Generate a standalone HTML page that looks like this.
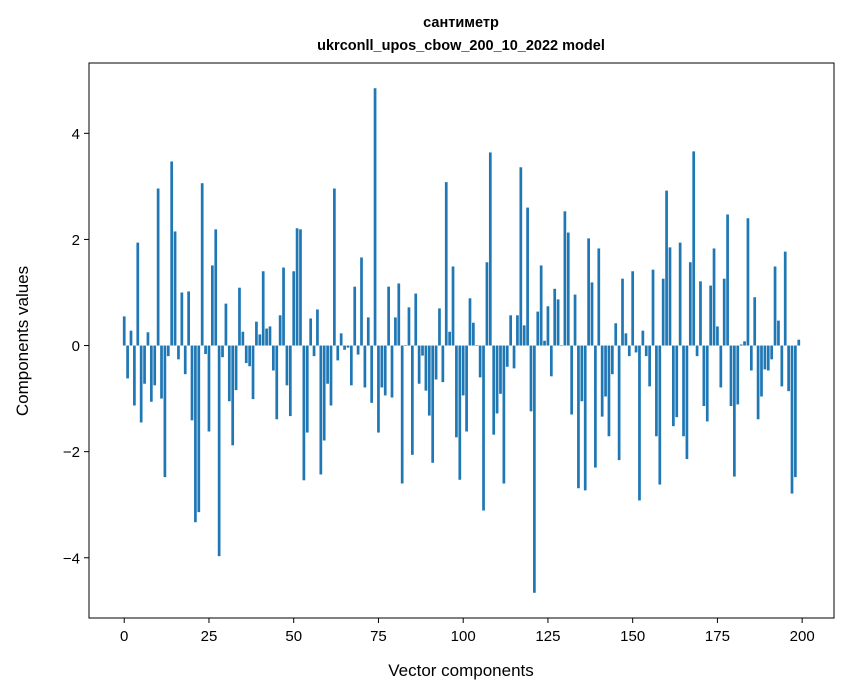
<!DOCTYPE html>
<html><head><meta charset="utf-8">
<style>
body{margin:0;background:#fff;}
svg{display:block;font-family:"Liberation Sans","DejaVu Sans",sans-serif;}
</style></head>
<body>
<svg id="chart" width="847" height="696">
<text x="461" y="27" text-anchor="middle" font-size="14.5" font-weight="bold">сантиметр</text>
<text x="461" y="50" text-anchor="middle" font-size="14.5" font-weight="bold">ukrconll_upos_cbow_200_10_2022 model</text>
<g id="bars"></g>
<g id="xaxis"></g>
<g id="yaxis"></g>
<rect x="89" y="63" width="745" height="555" fill="none" stroke="#000" stroke-width="1"/>
<text x="461" y="676" text-anchor="middle" font-size="17">Vector components</text>
<text transform="translate(28,341) rotate(-90)" text-anchor="middle" font-size="17">Components values</text>
</svg>
<script>
const values = [
0.55,-0.62,0.28,-1.13,1.94,-1.45,-0.72,0.25,-1.06,-0.75,
2.96,-1.0,-2.48,-0.2,3.47,2.15,-0.26,1.0,-0.54,1.02,
-1.41,-3.33,-3.14,3.06,-0.16,-1.62,1.51,2.19,-3.97,-0.22,
0.79,-1.05,-1.88,-0.84,1.09,0.26,-0.33,-0.39,-1.01,0.45,
0.21,1.40,0.32,0.36,-0.47,-1.39,0.57,1.47,-0.75,-1.33,
1.40,2.21,2.19,-2.54,-1.64,0.51,-0.2,0.68,-2.43,-1.79,
-0.72,-1.13,2.96,-0.28,0.23,-0.08,-0.04,-0.75,1.11,-0.17,
1.66,-0.79,0.53,-1.08,4.85,-1.64,-0.79,-0.94,1.11,-0.98,
0.53,1.17,-2.6,0.01,0.72,-2.06,0.98,-0.72,-0.19,-0.85,
-1.32,-2.21,-0.64,0.70,-0.69,3.08,0.26,1.49,-1.73,-2.53,
-0.94,-1.62,0.89,0.43,0.01,-0.6,-3.11,1.57,3.64,-1.68,
-1.28,-0.91,-2.6,-0.4,0.57,-0.43,0.57,3.36,0.38,2.6,
-1.24,-4.66,0.64,1.51,0.09,0.74,-0.58,1.07,0.87,-0.01,
2.53,2.13,-1.30,0.96,-2.69,-1.05,-2.73,2.02,1.19,-2.3,
1.83,-1.34,-0.96,-1.71,-0.54,0.42,-2.16,1.26,0.23,-0.2,
1.40,-0.13,-2.92,0.28,-0.2,-0.77,1.43,-1.71,-2.62,1.26,
2.92,1.85,-1.52,-1.35,1.94,-1.71,-2.14,1.57,3.66,-0.2,
1.21,-1.14,-1.43,1.13,1.83,0.36,-0.79,1.26,2.47,-1.14,
-2.47,-1.11,0.02,0.08,2.40,-0.47,0.91,-1.39,-0.96,-0.45,
-0.47,-0.26,1.49,0.47,-0.77,1.77,-0.86,-2.79,-2.48,0.11
];
const xTicks = [0,25,50,75,100,125,150,175,200];
const yTicks = [-4,-2,0,2,4];
const NS="http://www.w3.org/2000/svg";
const L=89,R=834,T=63,B=618;
const n=values.length;
const xmin=-0.4-0.05*(n-0.2), xmax=(n-1)+0.4+0.05*(n-0.2);
const vmin=Math.min(...values,0), vmax=Math.max(...values,0);
const pad=(vmax-vmin)*0.05;
const ymin=vmin-pad, ymax=vmax+pad;
function sx(v){return L+(v-xmin)/(xmax-xmin)*(R-L);}
function sy(v){return B-(v-ymin)/(ymax-ymin)*(B-T);}
const gb=document.getElementById('bars');
values.forEach((v,i)=>{
  const r=document.createElementNS(NS,'rect');
  const x0=sx(i-0.4), x1=sx(i+0.4);
  const y0=sy(Math.max(v,0)), y1=sy(Math.min(v,0));
  r.setAttribute('x',x0);r.setAttribute('width',x1-x0);
  r.setAttribute('y',y0);r.setAttribute('height',Math.max(y1-y0,0.3));
  r.setAttribute('fill','#1f77b4');
  
  
  gb.appendChild(r);
});
const gx=document.getElementById('xaxis');
xTicks.forEach(t=>{
  const x=sx(t);
  const l=document.createElementNS(NS,'line');
  l.setAttribute('x1',x);l.setAttribute('x2',x);l.setAttribute('y1',B);l.setAttribute('y2',B+5);
  l.setAttribute('stroke','#000');
  
  
  gx.appendChild(l);
  const tx=document.createElementNS(NS,'text');
  tx.setAttribute('x',x);tx.setAttribute('y',B+23);tx.setAttribute('text-anchor','middle');tx.setAttribute('font-size','15');
  tx.textContent=t;
  
  
  gx.appendChild(tx);
});
const gy=document.getElementById('yaxis');
yTicks.forEach(t=>{
  const y=sy(t);
  const l=document.createElementNS(NS,'line');
  l.setAttribute('x1',L-5);l.setAttribute('x2',L);l.setAttribute('y1',y);l.setAttribute('y2',y);
  l.setAttribute('stroke','#000');
  
  
  gy.appendChild(l);
  const tx=document.createElementNS(NS,'text');
  tx.setAttribute('x',L-9);tx.setAttribute('y',y+5.5);tx.setAttribute('text-anchor','end');tx.setAttribute('font-size','15');
  tx.textContent=(t<0?'\u2212'+Math.abs(t):String(t));
  
  
  gy.appendChild(tx);
});
</script>
</body></html>
